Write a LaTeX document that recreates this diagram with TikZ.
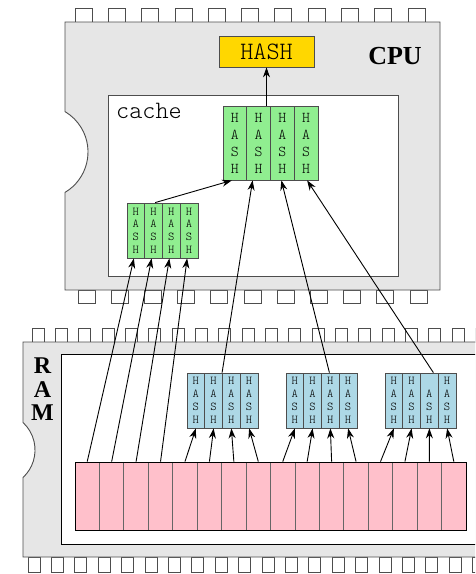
\documentclass[tikz,border=0pt]{standalone}
\usepackage{fontspec}
\setmainfont{Liberation Serif}
\newfontfamily\monof{Latin Modern Mono Light}
\usetikzlibrary{arrows.meta,calc}
\definecolor{chipgray}{HTML}{E6E6E6}
\definecolor{edgegray}{HTML}{4D4D4D}
\definecolor{cellgray}{HTML}{666666}
\definecolor{hgreen}{HTML}{90EE90}
\definecolor{hblue}{HTML}{ADD8E6}
\definecolor{hpink}{HTML}{FFC0CB}
\definecolor{hgold}{HTML}{FFD700}
\begin{document}
\begin{tikzpicture}[x=1pt,y=-1pt,
  pin/.style={draw=edgegray, fill=white, line width=0.8pt},
  chip/.style={draw=edgegray, fill=chipgray, line width=0.9pt},
  bigcol/.style={draw=edgegray, fill=hgreen, line width=0.8pt, minimum width=23.75pt, minimum height=74pt, inner sep=0pt, align=center, font=\monof\fontsize{15}{17}\selectfont},
  smallcol/.style={draw=edgegray, fill=hgreen, line width=0.8pt, minimum width=17.75pt, minimum height=55pt, inner sep=0pt, align=center, font=\monof\fontsize{12}{12.7}\selectfont},
  bluecol/.style={smallcol, fill=hblue, font=\monof\fontsize{12}{13}\selectfont},
  pinkcell/.style={draw=cellgray, fill=hpink, line width=0.8pt, minimum width=24.44pt, minimum height=68pt, inner sep=0pt},
  arr/.style={line width=0.9pt, -{Stealth[length=10pt,width=7pt]}},
  ramlbl/.style={font=\bfseries\fontsize{24}{24}\selectfont, inner sep=0pt}]
\useasboundingbox (0,0) rectangle (475,574);
\clip (0,0) rectangle (475,574);
\fill[white] (0,0) rectangle (475,574);

% CPU pins
\foreach \i in {0,...,10} \draw[pin] ({75+33.3*\i},8) rectangle ++(17,14);
\foreach \i in {0,...,10} \draw[pin] ({78+33.2*\i},290) rectangle ++(17,13);
% RAM pins
\foreach \i in {0,...,19} \draw[pin] ({32+23.33*\i},328) rectangle ++(12,14);
\foreach \i in {0,...,19} \draw[pin] ({28+23.4*\i},557) rectangle ++(12,15);

% CPU chip with notch
\path[chip] (65,22) -- (440,22) -- (440,290) -- (65,290) -- (65,192.4)
  arc[start angle=59.3, end angle=-59.3, radius=47] -- cycle;
% RAM chip with notch
\path[chip] (23,342) -- (495,342) -- (495,557) -- (23,557) -- (23,477.5)
  arc[start angle=47.2, end angle=-47.2, radius=37.5] -- cycle;

% cache box and RAM inner box
\draw[draw=edgegray, fill=white, line width=0.9pt] (108,95) rectangle (398,276);
\draw[draw=black, fill=white, line width=0.9pt] (61,354) rectangle (495,544);

% labels
\node[font=\bfseries\fontsize{26}{26}\selectfont, inner sep=0pt] (cpulbl) at (395,56) {CPU};
\node[anchor=base west, font=\monof\fontsize{25}{25}\selectfont, inner sep=0pt] (cachelbl) at (116,118) {cache};
\node[ramlbl] (ramR) at (42.5,366) {R};
\node[ramlbl] (ramA) at (42.5,389.5) {A};
\node[ramlbl] (ramM) at (42.5,413) {M};

% HASH unit
\node[draw=edgegray, fill=hgold, line width=0.8pt, minimum width=95pt, minimum height=31pt, inner sep=0pt, font=\monof\fontsize{25}{25}\selectfont] (hash) at (266.5,51.5) {HASH};

% big green block
\foreach \c in {1,...,4}
  \node[bigcol] (bg\c) at ({223+23.75*(\c-0.5)},143) {H\\A\\S\\H};
% small green block
\foreach \c in {1,...,4}
  \node[smallcol] (sg\c) at ({127+17.75*(\c-0.5)},230.5) {H\\A\\S\\H};
% blue groups
\foreach \g/\x in {1/187,2/286,3/385}
  \foreach \c in {1,...,4}
    \node[bluecol] (b\g-\c) at ({\x+17.75*(\c-0.5)},400.5) {H\\A\\S\\H};
\node[bluecol] (b3-3) at ({385+17.75*2.5},400.5) {\phantom{H}\\A\\S\\H};

% pink row
\foreach \i in {1,...,16}
  \node[pinkcell] (p\i) at ({75+24.44*(\i-0.5)},496) {};
\draw[black, line width=0.9pt] (75,462) rectangle (466,530);

% connectors
\draw[arr] (bg1.north -| hash.south) -- (hash.south);
\draw[arr] ($(sg2.north)+(1.5,0)$) -- ($(bg1.south)+(-3,0)$);
\foreach \i in {1,...,4} \draw[arr] (p\i.north) -- ($(sg\i.south)+(-2,0)$);
\foreach \i/\c in {5/1,6/2,7/3,8/4} \draw[arr] (p\i.north) -- (b1-\c.south);
\foreach \i/\c in {9/1,10/2,11/3,12/4} \draw[arr] (p\i.north) -- (b2-\c.south);
\foreach \i/\c in {13/1,14/2,15/3,16/4} \draw[arr] (p\i.north) -- (b3-\c.south);
\draw[arr] (b1-3.north west) -- ($(bg2.south)+(-6,0)$);
\draw[arr] ($(b2-3.north)+(-1,0)$) -- ($(bg3.south)+(-1,0)$);
\draw[arr] ($(b3-3.north)+(4,0)$) -- ($(bg4.south)+(1,0)$);
\end{tikzpicture}
\end{document}
